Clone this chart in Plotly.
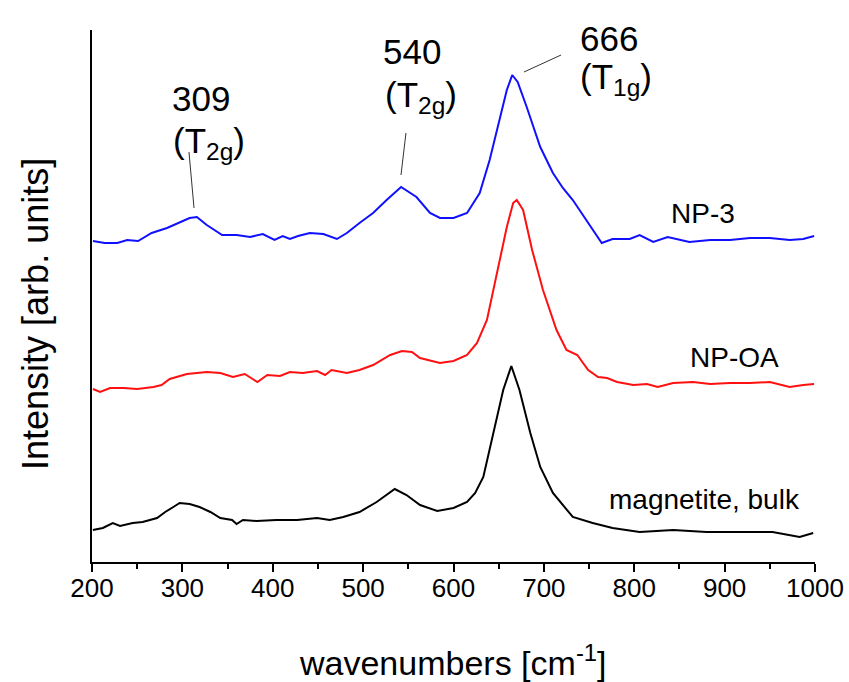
import plotly.graph_objects as go

# ---- data ----
np3_wn = [201, 214, 228, 239, 251, 266, 283, 297, 308, 316, 327, 344, 360, 375, 389, 402, 411, 419, 428,
          441, 456, 471, 482, 496, 511, 526, 542, 559, 574, 585, 600, 615, 629, 640, 649, 659, 665, 671,
          681, 696, 710, 721, 732, 743, 754, 764, 776, 795, 806, 821, 837, 861, 884, 906, 928, 950, 972,
          987, 999]
np3_int = [321, 319, 319, 322, 321, 329, 334, 340, 344, 345, 337, 327, 327, 325, 328, 322, 326, 323, 326,
           329, 328, 323, 329, 339, 349, 362, 375, 365, 349, 344, 344, 349, 369, 402, 435, 472, 487, 480,
           455, 415, 389, 374, 362, 347, 332, 319, 323, 323, 327, 320, 325, 320, 322, 322, 324, 324, 322,
           323, 326]

npoa_wn = [201, 209, 220, 235, 250, 268, 277, 286, 305, 327, 342, 356, 369, 383, 394, 408, 419, 433, 449,
           458, 465, 482, 496, 511, 530, 543, 554, 563, 585, 600, 615, 626, 637, 648, 659, 666, 670, 677,
           687, 699, 714, 725, 737, 749, 760, 770, 781, 799, 814, 826, 843, 865, 884, 906, 928, 950, 972,
           987, 999]
npoa_int = [173, 170, 174, 174, 173, 175, 177, 183, 188, 190, 189, 185, 188, 180, 187, 186, 190, 189, 191,
            187, 192, 189, 192, 197, 207, 211, 210, 204, 199, 201, 207, 219, 242, 289, 335, 359, 362, 352,
            312, 272, 232, 212, 207, 192, 185, 184, 180, 177, 178, 175, 179, 180, 178, 179, 179, 180, 175,
            177, 178]

bulk_wn = [201, 212, 223, 231, 245, 256, 272, 281, 290, 297, 308, 319, 331, 342, 355, 360, 367, 382, 404,
           427, 449, 463, 478, 496, 515, 535, 548, 563, 582, 600, 615, 624, 633, 644, 655, 664, 673, 685,
           696, 710, 732, 754, 776, 806, 843, 880, 917, 953, 983, 998]
bulk_int = [32, 34, 39, 36, 39, 40, 44, 50, 55, 59, 58, 55, 50, 44, 42, 38, 42, 41, 42,
            42, 44, 42, 45, 50, 60, 73, 67, 57, 51, 54, 60, 69, 85, 129, 172, 196, 172, 129,
            95, 69, 45, 39, 34, 30, 32, 30, 30, 30, 25, 29]

series_names = ["NP-3", "NP-OA", "magnetite, bulk"]
series_colors = ["#1010ff", "#ff1010", "#000000"]

tick_vals = [200, 300, 400, 500, 600, 700, 800, 900, 1000]
tick_text = ["200", "300", "400", "500", "600", "700", "800", "900", "1000"]

FONT = "Liberation Sans, Arial, sans-serif"
Y_MAX = 532

fig = go.Figure()
for wn, inten, name, col in zip([np3_wn, npoa_wn, bulk_wn], [np3_int, npoa_int, bulk_int],
                                series_names, series_colors):
    fig.add_trace(go.Scatter(x=wn, y=inten, mode="lines", name=name,
                             line=dict(color=col, width=2), showlegend=False))

# series labels
label_pos = [(876, 349), (911, 205), (878, 63)]
for name, (lx, ly) in zip(series_names, label_pos):
    fig.add_annotation(x=lx, y=ly, xref="x", yref="y", text=name, showarrow=False,
                       font=dict(family=FONT, size=28, color="black"),
                       xanchor="center", yanchor="middle")

# peak labels (y given in data units, placed via paper fraction so they are never hidden)
peak_labels = [
    ("309", 320.6, 464, "(T<sub>2g</sub>)", 329.5, 419),
    ("540", 554, 511, "(T<sub>2g</sub>)", 564, 465),
    ("666", 772, 524, "(T<sub>1g</sub>)", 780, 483),
]
for num, nx, ny, mode, mx, my in peak_labels:
    fig.add_annotation(x=nx, y=ny / Y_MAX, xref="x", yref="paper", text=num, showarrow=False,
                       font=dict(family=FONT, size=35, color="black"),
                       xanchor="center", yanchor="middle")
    fig.add_annotation(x=mx, y=my / Y_MAX, xref="x", yref="paper", text=mode, showarrow=False,
                       font=dict(family=FONT, size=35, color="black"),
                       xanchor="center", yanchor="middle")

# leader lines
leaders = [(307.3, 410, 312.9, 354), (547.4, 429, 541.9, 387), (678, 490, 719, 507)]
for x0, y0, x1, y1 in leaders:
    fig.add_shape(type="line", x0=x0, y0=y0, x1=x1, y1=y1, xref="x", yref="y",
                  line=dict(color="#333333", width=1))

# axis titles
fig.add_annotation(x=0.499, y=-0.186, xref="paper", yref="paper",
                   text="wavenumbers [cm<sup>-1</sup>]", showarrow=False,
                   font=dict(family=FONT, size=34, color="black"),
                   xanchor="center", yanchor="middle")
fig.add_annotation(x=-0.079, y=0.466, xref="paper", yref="paper",
                   text="Intensity [arb. units]", showarrow=False, textangle=-90,
                   font=dict(family=FONT, size=36, color="black"),
                   xanchor="center", yanchor="middle")

fig.update_layout(
    width=849, height=682, autosize=False,
    margin=dict(l=92, r=34, t=30, b=120, autoexpand=False),
    paper_bgcolor="white", plot_bgcolor="white",
    font=dict(family=FONT, color="black"),
)
fig.update_xaxes(range=[200, 1000], showline=True, linecolor="black", linewidth=1.5,
                 automargin=False,
                 showgrid=False, zeroline=False, ticks="outside", ticklen=8, tickwidth=1.5,
                 tickcolor="black", tickvals=tick_vals, ticktext=tick_text,
                 ticklabelstandoff=-6,
                 tickfont=dict(family=FONT, size=26, color="black"),
                 minor=dict(ticks="outside", ticklen=5, tickwidth=1.5, tickcolor="black", dtick=50,
                            showgrid=False))
fig.update_yaxes(range=[0, Y_MAX], showline=True, linecolor="black", linewidth=1.5,
                 automargin=False,
                 showgrid=False, zeroline=False, ticks="", showticklabels=False)

fig.write_html("out.html", config={"displayModeBar": False, "responsive": False},
               post_script="document.body.style.margin='0';document.body.style.overflow='hidden';")
